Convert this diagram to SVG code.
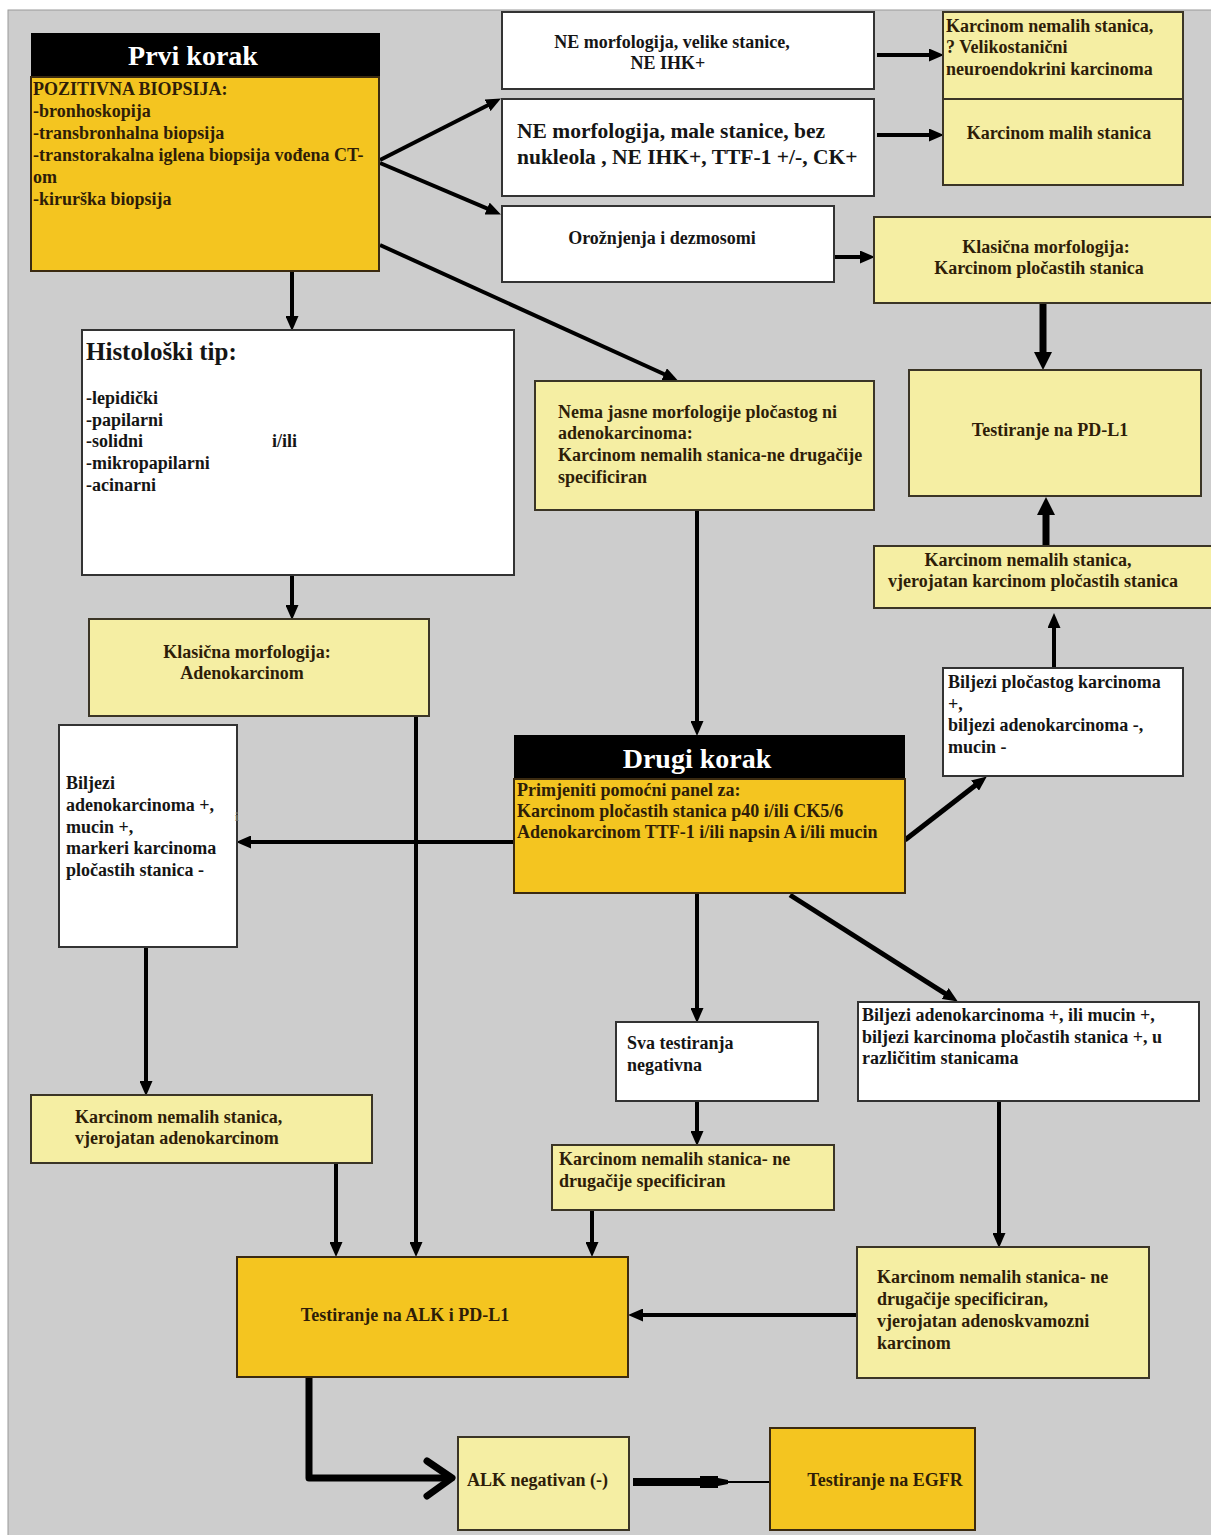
<svg xmlns="http://www.w3.org/2000/svg" width="1211" height="1535" viewBox="0 0 1211 1535">
<style>
.bw{fill:#ffffff;stroke:#333333;stroke-width:2}
.by{fill:#f5eea3;stroke:#3b3526;stroke-width:2}
.bd{fill:#f4c520;stroke:#3b2a10;stroke-width:2}
.hdr{fill:#000000}
text{font-family:"Liberation Serif","Times New Roman",serif;font-weight:bold;font-size:18px;fill:#151515}
.ty{fill:#2e1d08}
.title{font-size:28px;fill:#ffffff;text-anchor:middle}
.c{text-anchor:middle}
.ln{stroke:#000;stroke-width:4;fill:none;marker-end:url(#ah)}
.lt{stroke:#000;stroke-width:7;fill:none;marker-end:url(#ahb)}
</style>
<defs>
<marker id="ah" markerUnits="userSpaceOnUse" markerWidth="15" markerHeight="13" viewBox="0 0 15 13" refX="8" refY="6.5" orient="auto">
<path d="M0,0 L15,6.5 L0,13 z" fill="#000"/>
</marker>
<marker id="ahb" markerUnits="userSpaceOnUse" markerWidth="18" markerHeight="18" viewBox="0 0 18 18" refX="10" refY="9" orient="auto">
<path d="M0,0 L18,9 L0,18 z" fill="#000"/>
</marker>
</defs>
<rect x="0" y="0" width="1211" height="1535" fill="#ffffff"/>
<rect x="8" y="10" width="1210" height="1530" fill="#cdcdcd" stroke="#9a9a9a" stroke-width="1"/>

<g id="connectors">
<line class="ln" x1="380" y1="160" x2="494.7" y2="101.7"/>
<line class="ln" x1="380" y1="163" x2="494.5" y2="211.7"/>
<line class="ln" x1="380" y1="245" x2="671.5" y2="377.5"/>
<line class="ln" x1="292" y1="271" x2="292" y2="324"/>
<line class="ln" x1="292" y1="575" x2="292" y2="613"/>
<line class="ln" x1="877" y1="55" x2="937" y2="55"/>
<line class="ln" x1="877" y1="135" x2="937" y2="135"/>
<line class="ln" x1="834" y1="257" x2="868" y2="257"/>
<line class="lt" x1="1043" y1="303" x2="1043" y2="362"/>
<line class="lt" x1="1046" y1="545" x2="1046" y2="505"/>
<line class="ln" x1="1054" y1="668" x2="1054" y2="620"/>
<line class="ln" x1="905" y1="840" x2="981.3" y2="780.7" style="stroke-width:5"/>
<line class="ln" x1="514" y1="842" x2="243" y2="842"/>
<line class="ln" x1="416" y1="715" x2="416" y2="1250"/>
<line class="ln" x1="697" y1="510" x2="697" y2="729"/>
<line class="ln" x1="697" y1="893" x2="697" y2="1016"/>
<line class="ln" x1="790" y1="895" x2="951.9" y2="997.8" style="stroke-width:5"/>
<line class="ln" x1="146" y1="947" x2="146" y2="1089"/>
<line class="ln" x1="697" y1="1101" x2="697" y2="1139"/>
<line class="ln" x1="336" y1="1163" x2="336" y2="1250"/>
<line class="ln" x1="592" y1="1210" x2="592" y2="1250"/>
<line class="ln" x1="999" y1="1101" x2="999" y2="1241"/>
<line class="ln" x1="857" y1="1315" x2="635" y2="1315"/>
<path d="M309,1377 V1478 H450" fill="none" stroke="#000" stroke-width="7" stroke-linejoin="round"/>
<path d="M427,1461 L452,1478 L427,1496" fill="none" stroke="#000" stroke-width="7" stroke-linejoin="round" stroke-linecap="round"/>
<line x1="633" y1="1482" x2="702" y2="1482" stroke="#000" stroke-width="8"/>
<rect x="700" y="1476" width="18" height="12" fill="#000"/>
<path d="M718,1478 L728,1480 L728,1484 L718,1486 z" fill="#000"/>
<line x1="726" y1="1482" x2="770" y2="1482" stroke="#000" stroke-width="2"/>
</g>

<g id="prvi-korak">
<rect class="hdr" x="31" y="33" width="349" height="44"/>
<rect class="bd" x="31" y="77" width="348" height="194"/>
<text class="title" x="193" y="65">Prvi korak</text>
<text class="ty" x="33" y="95">POZITIVNA BIOPSIJA:</text>
<text class="ty" x="33" y="117">-bronhoskopija</text>
<text class="ty" x="33" y="139">-transbronhalna biopsija</text>
<text class="ty" x="33" y="161">-transtorakalna iglena biopsija vođena CT-</text>
<text class="ty" x="33" y="183">om</text>
<text class="ty" x="33" y="205">-kirurška biopsija</text>
</g>

<g id="ne-velike">
<rect class="bw" x="502" y="12" width="372" height="77"/>
<text class="c" x="672" y="48">NE morfologija, velike stanice,</text>
<text class="c" x="668" y="69">NE IHK+</text>
</g>

<g id="ne-male">
<rect class="bw" x="502" y="99" width="372" height="97"/>
<text x="517" y="138" style="font-size:21.5px">NE morfologija, male stanice, bez</text>
<text x="517" y="164" style="font-size:21.5px">nukleola , NE IHK+, TTF-1 +/-, CK+</text>
</g>

<g id="oroznjenja">
<rect class="bw" x="502" y="206" width="332" height="76"/>
<text class="c" x="662" y="244">Orožnjenja i dezmosomi</text>
</g>

<g id="velikostanicni">
<rect class="by" x="943" y="12" width="240" height="87"/>
<text class="ty" x="946" y="32">Karcinom nemalih stanica,</text>
<text class="ty" x="946" y="53">? Velikostanični</text>
<text class="ty" x="946" y="75">neuroendokrini karcinoma</text>
</g>

<g id="malih-stanica">
<rect class="by" x="943" y="99" width="240" height="86"/>
<text class="ty c" x="1059" y="139">Karcinom malih stanica</text>
</g>

<g id="klasicna-plocastih">
<rect class="by" x="874" y="217" width="340" height="86"/>
<text class="ty c" x="1046" y="253">Klasična morfologija:</text>
<text class="ty c" x="1039" y="274">Karcinom pločastih stanica</text>
</g>

<g id="pdl1">
<rect class="by" x="909" y="370" width="292" height="126"/>
<text class="ty c" x="1050" y="436">Testiranje na PD-L1</text>
</g>

<g id="vjerojatan-plocastih">
<rect class="by" x="874" y="546" width="340" height="62"/>
<text class="ty c" x="1028" y="566">Karcinom nemalih stanica,</text>
<text class="ty c" x="1033" y="587">vjerojatan karcinom pločastih stanica</text>
</g>

<g id="biljezi-plocastog">
<rect class="bw" x="943" y="668" width="240" height="108"/>
<text x="948" y="688">Biljezi pločastog karcinoma</text>
<text x="948" y="710">+,</text>
<text x="948" y="731">biljezi adenokarcinoma -,</text>
<text x="948" y="753">mucin -</text>
</g>

<g id="histoloski">
<rect class="bw" x="82" y="330" width="432" height="245"/>
<text x="86" y="360" style="font-size:25px">Histološki tip:</text>
<text x="86" y="404">-lepidički</text>
<text x="86" y="426">-papilarni</text>
<text x="86" y="447">-solidni</text>
<text x="272" y="447">i/ili</text>
<text x="86" y="469">-mikropapilarni</text>
<text x="86" y="491">-acinarni</text>
</g>

<g id="nema-jasne">
<rect class="by" x="535" y="381" width="339" height="129"/>
<text class="ty" x="558" y="418">Nema jasne morfologije pločastog ni</text>
<text class="ty" x="558" y="439">adenokarcinoma:</text>
<text class="ty" x="558" y="461">Karcinom nemalih stanica-ne drugačije</text>
<text class="ty" x="558" y="483">specificiran</text>
</g>

<g id="klasicna-adeno">
<rect class="by" x="89" y="619" width="340" height="97"/>
<text class="ty c" x="247" y="658">Klasična morfologija:</text>
<text class="ty c" x="242" y="679">Adenokarcinom</text>
</g>

<g id="biljezi-adeno-lijevo">
<rect class="bw" x="59" y="725" width="178" height="222"/>
<text x="66" y="789">Biljezi</text>
<text x="66" y="811">adenokarcinoma +,</text>
<text x="66" y="833">mucin +,</text>
<text x="66" y="854">markeri karcinoma</text>
<text x="66" y="876">pločastih stanica -</text>
<text x="235" y="821" style="font-size:13px;fill:#666">i</text>
</g>

<g id="drugi-korak">
<rect class="hdr" x="514" y="735" width="391" height="44"/>
<rect class="bd" x="514" y="779" width="391" height="114"/>
<text class="title" x="697" y="768">Drugi korak</text>
<text class="ty" x="517" y="796">Primjeniti pomoćni panel za:</text>
<text class="ty" x="517" y="817">Karcinom pločastih stanica p40 i/ili CK5/6</text>
<text class="ty" x="517" y="838">Adenokarcinom TTF-1 i/ili napsin A i/ili mucin</text>
</g>

<g id="sva-negativna">
<rect class="bw" x="616" y="1022" width="202" height="79"/>
<text x="627" y="1049">Sva testiranja</text>
<text x="627" y="1071">negativna</text>
</g>

<g id="biljezi-adeno-desno">
<rect class="bw" x="858" y="1002" width="341" height="99"/>
<text x="862" y="1021">Biljezi adenokarcinoma +, ili mucin +,</text>
<text x="862" y="1043">biljezi karcinoma pločastih stanica +, u</text>
<text x="862" y="1064">različitim stanicama</text>
</g>

<g id="vjerojatan-adeno">
<rect class="by" x="31" y="1095" width="341" height="68"/>
<text class="ty" x="75" y="1123">Karcinom nemalih stanica,</text>
<text class="ty" x="75" y="1144">vjerojatan adenokarcinom</text>
</g>

<g id="nos">
<rect class="by" x="552" y="1145" width="282" height="65"/>
<text class="ty" x="559" y="1165">Karcinom nemalih stanica- ne</text>
<text class="ty" x="559" y="1187">drugačije specificiran</text>
</g>

<g id="adenoskvamozni">
<rect class="by" x="857" y="1247" width="292" height="131"/>
<text class="ty" x="877" y="1283">Karcinom nemalih stanica- ne</text>
<text class="ty" x="877" y="1305">drugačije specificiran,</text>
<text class="ty" x="877" y="1327">vjerojatan adenoskvamozni</text>
<text class="ty" x="877" y="1349">karcinom</text>
</g>

<g id="alk-pdl1">
<rect class="bd" x="237" y="1257" width="391" height="120"/>
<text class="ty c" x="405" y="1321">Testiranje na ALK i PD-L1</text>
</g>

<g id="alk-negativan">
<rect class="by" x="458" y="1437" width="171" height="93"/>
<text class="ty" x="467" y="1486">ALK negativan (-)</text>
</g>

<g id="egfr">
<rect class="bd" x="770" y="1428" width="205" height="102"/>
<text class="ty c" x="885" y="1486">Testiranje na EGFR</text>
</g>
</svg>
